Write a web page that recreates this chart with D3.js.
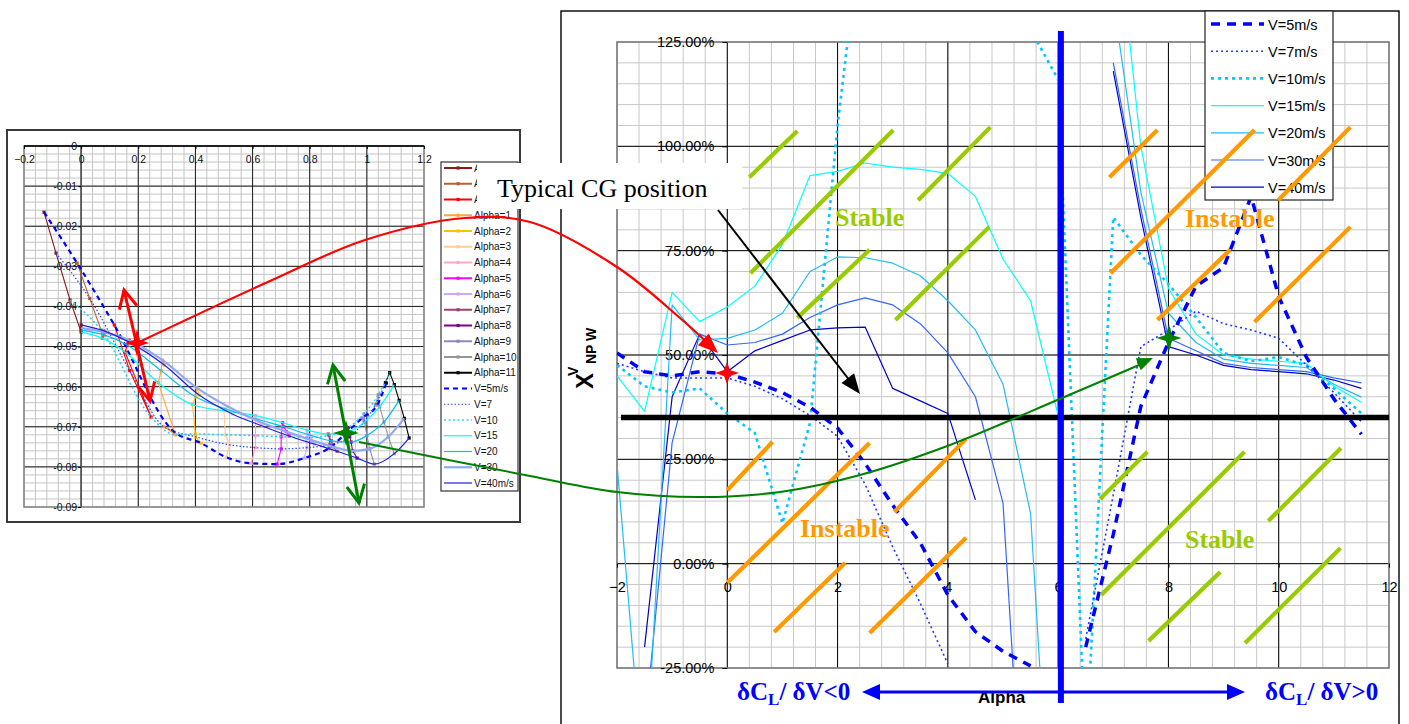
<!DOCTYPE html>
<html><head><meta charset="utf-8">
<script src="https://cdn.jsdelivr.net/npm/d3@7"></script>
<style>body{margin:0;background:#fff;} svg{display:block;}</style>
</head><body>
<svg id="c" width="1409" height="724"></svg>
<script>
// ================= DATA =================
// Right chart: neutral point position X^V_NPW (%) vs angle of attack, one series per airspeed
const alphas = [-2,-1.5,-1,-0.5,0,0.5,1,1.5,2,2.5,3,3.5,4,4.5,5,5.5,6,6.5,7,7.5,8,8.5,9,9.5,10,10.5,11,11.5];
const npV5  = [50.5,46,45,46,45.5,43.5,41,37.5,32.5,24,14,5,-7.5,-16.3,-21,-24.5,null,-20,7,37.7,53,66.5,71,88,64,49.5,39.5,31];
const npV7  = [48,46,44.5,44.5,44.5,42.5,39.5,35.5,30.5,19,4,-9.5,-24,null,null,null,null,-18,16.5,52,56,60.5,57.5,56,54,47.6,41,34];
const npV10 = [47.6,42.5,41,42,36,31.3,9.7,33.7,105,160,null,null,null,null,null,128,116,-46,83,74,67,59,50.5,48.5,49.5,47.5,42,36];
const npV15 = [45,36.5,65,58,61.5,66.5,76.5,93,94,96,95,94.5,93.5,88,73,63,35.5,null,162,100,66,55,50,49,48.5,48,42.5,38.7];
const npV20 = [24,-55,62,53.6,54,56,60,70,73.5,73.3,72,69,63,56,43,12,-98,null,135,89,60,53,49,48,47.5,47,43,39.9];
const npV30 = [null,-40,29,55,52.4,53,55,59,62,63.7,62,57.5,50.5,40,14.5,-93,null,null,120,85,54,51,48,47,46.5,46,44.5,43.3];
const npV40 = [null,-20,40,55,46,51,53.5,56,56.5,56.7,42,39,36,15.3,null,null,null,null,118,83,52,50,47.5,46.5,46,45.5,44,42];
const rightNames = ['V=5m/s','V=7m/s','V=10m/s','V=15m/s','V=20m/s','V=30m/s','V=40m/s'];
const yTicksR = [-25,0,25,50,75,100,125];
const xTicksR = [-2,0,2,4,6,8,10,12];

// Left chart: polar-type curves (x, y) for each airspeed, sampled at alpha = -2 ... 11
const alphaList = [-2,-1,0,1,2,3,4,5,6,7,8,9,10,11];
const lxV5  = [-0.130,-0.014,0.116,0.326,0.420,0.508,0.595,0.686,0.781,0.868,0.931,0.984,1.036,1.068];
const lyV5  = [-0.0165,-0.0292,-0.0446,-0.0713,-0.0741,-0.0776,-0.0791,-0.0793,-0.0778,-0.0753,-0.0713,-0.0678,-0.0646,-0.0591];
const lxV7  = [-0.088,0.030,0.170,0.290,0.400,0.520,0.610,0.700,0.790,0.870,0.940,0.990,1.030,1.065];
const lyV7  = [-0.0267,-0.0380,-0.0560,-0.0700,-0.0725,-0.0745,-0.0752,-0.0755,-0.0752,-0.0745,-0.0725,-0.0688,-0.0645,-0.0590];
const lxV10 = [-0.039,0.070,0.245,0.330,0.400,0.505,0.610,0.700,0.790,0.868,0.935,0.990,1.040,1.080];
const lyV10 = [-0.0384,-0.0459,-0.0676,-0.0720,-0.0718,-0.0720,-0.0722,-0.0725,-0.0727,-0.0722,-0.0702,-0.0668,-0.0620,-0.0565];
const lxV15 = [0.000,0.074,0.154,0.270,0.390,0.500,0.610,0.705,0.790,0.865,0.935,0.992,1.045,1.096];
const lyV15 = [-0.0464,-0.0479,-0.0514,-0.0590,-0.0645,-0.0660,-0.0672,-0.0690,-0.0708,-0.0718,-0.0712,-0.0688,-0.0650,-0.0595];
const lxV20 = [0.000,0.080,0.161,0.280,0.400,0.505,0.612,0.710,0.798,0.875,0.945,1.000,1.060,1.113];
const lyV20 = [-0.0459,-0.0471,-0.0496,-0.0560,-0.0625,-0.0655,-0.0680,-0.0700,-0.0720,-0.0735,-0.0738,-0.0722,-0.0688,-0.0634];
const lxV30 = [0.000,0.080,0.168,0.285,0.405,0.515,0.620,0.718,0.805,0.882,0.950,1.010,1.075,1.131];
const lyV30 = [-0.0454,-0.0464,-0.0484,-0.0534,-0.0603,-0.0650,-0.0686,-0.0712,-0.0733,-0.0750,-0.0760,-0.0755,-0.0725,-0.0679];
const lxV40 = [0.000,0.080,0.168,0.291,0.413,0.529,0.634,0.728,0.816,0.896,0.966,1.026,1.096,1.148];
const lyV40 = [-0.0446,-0.0461,-0.0489,-0.0546,-0.0621,-0.0668,-0.0698,-0.0723,-0.0743,-0.0761,-0.0778,-0.0793,-0.0767,-0.0728];
const leftVNames = ['V=5m/s','V=7','V=10','V=15','V=20','V=30','V=40m/s'];
const xTicksL = [-0.2,0,0.2,0.4,0.6,0.8,1,1.2];
const yTicksL = [0,-0.01,-0.02,-0.03,-0.04,-0.05,-0.06,-0.07,-0.08,-0.09];

// Stability zones hatching, segments [alpha0, pct0, alpha1, pct1]
const hatchGreenTop = [[0.4,92.6,1.27,103.7],[0.42,69.6,3.01,103.9],[1.27,58.9,2.58,75.2],[3.46,87.1,4.77,104.6],[3.05,58.4,4.75,80.7]];
const hatchOrangeTop = [[6.93,92.6,7.80,103.9],[6.95,69.6,9.56,103.9],[9.99,87.1,11.30,104.6],[7.80,58.4,9.12,75.2],[9.56,57.9,11.30,80.7]];
const hatchOrangeBottom = [[0,17.6,0.82,29.2],[0,-4.6,2.58,28.9],[3.03,12.4,4.33,29.9],[2.58,-16.6,4.33,6.2],[0.85,-16.4,2.14,0.2]];
const hatchGreenBottom = [[6.76,15.5,7.62,26.8],[6.78,-7.5,9.38,26.8],[9.81,10.2,11.13,27.7],[7.64,-18.5,8.94,-2.0],[9.39,-19.0,11.12,3.75]];
const cgPosition = 35;      // typical CG position, %
const neutralAlpha = 6.05;  // alpha where dCL/dV changes sign

// ================= STYLES =================
const SANS = '"Liberation Sans", Arial, sans-serif';
const SERIF = '"Liberation Serif", "Times New Roman", serif';
const rightStyles = [
  {c:'#0000FF', w:3.5, d:'9,7'},
  {c:'#1F3BFF', w:1.6, d:'2,3'},
  {c:'#00C8FF', w:2.6, d:'3,4'},
  {c:'#00FFFF', w:1.2, d:null},
  {c:'#22BBF5', w:1.2, d:null},
  {c:'#3366FF', w:1.2, d:null},
  {c:'#0000CC', w:1.2, d:null}
];
const leftStyles = [
  {c:'#0000FF', w:2.2, d:'5,4'},
  {c:'#2244FF', w:1.2, d:'1.5,2'},
  {c:'#33CCFF', w:1.6, d:'2,2.5'},
  {c:'#00FFFF', w:1.2, d:null},
  {c:'#00C0F0', w:1.2, d:null},
  {c:'#90A8F5', w:2.2, d:null},
  {c:'#2020E0', w:1.2, d:null}
];
const alphaColors = ['#8B1A1A','#B8602A','#FF0000','#FFA53C','#FFC000','#FFCC99','#FFA6CF','#FF00FF','#CCA8FF','#A0406E','#800080','#8A8ABE','#969696','#000000'];

const svg = d3.select('#c');

// ================= LEFT CHART =================
const xL = d3.scaleLinear().domain([-0.2,1.2]).range([24,424]);
const yL = d3.scaleLinear().domain([-0.09,0]).range([507,146]);
const L = svg.append('g');
L.append('rect').attr('x',7).attr('y',130).attr('width',513).attr('height',392)
  .attr('fill','#fff').attr('stroke','#3a3a3a').attr('stroke-width',2);
// minor grid
const lgMinor = L.append('g').attr('stroke','#c4c4c4').attr('stroke-width',1);
d3.range(0,36).map(i=>-0.2+i*0.04).forEach(v=>{
  lgMinor.append('line').attr('x1',xL(v)).attr('x2',xL(v)).attr('y1',yL(0)).attr('y2',yL(-0.09));
});
d3.range(0,46).map(i=>-i*0.002).forEach(v=>{
  lgMinor.append('line').attr('x1',xL(-0.2)).attr('x2',xL(1.2)).attr('y1',yL(v)).attr('y2',yL(v));
});
const lgMajor = L.append('g').attr('stroke','#1a1a1a').attr('stroke-width',1);
xTicksL.forEach(v=>{ if(Math.abs(v+0.2)>1e-9 && Math.abs(v-1.2)>1e-9)
  lgMajor.append('line').attr('x1',xL(v)).attr('x2',xL(v)).attr('y1',yL(0)).attr('y2',yL(-0.09)); });
yTicksL.forEach(v=>{ if(v!==-0.09)
  lgMajor.append('line').attr('x1',xL(-0.2)).attr('x2',xL(1.2)).attr('y1',yL(v)).attr('y2',yL(v)); });
L.append('rect').attr('x',xL(-0.2)).attr('y',yL(0)).attr('width',xL(1.2)-xL(-0.2)).attr('height',yL(-0.09)-yL(0))
  .attr('fill','none').attr('stroke','#808080').attr('stroke-width',1.5);
L.append('line').attr('x1',xL(-0.2)).attr('x2',xL(1.2)).attr('y1',yL(0)).attr('y2',yL(0)).attr('stroke','#000').attr('stroke-width',1.3);
L.append('line').attr('x1',xL(0)).attr('x2',xL(0)).attr('y1',yL(0)).attr('y2',yL(-0.09)).attr('stroke','#555').attr('stroke-width',1.5);
// axes
const axTopL = L.append('g').attr('transform',`translate(0,${yL(0)})`)
  .call(d3.axisBottom(xL).tickValues(xTicksL).tickSize(3).tickPadding(7).tickFormat(d=>d3.format('')(+d.toFixed(1))));
axTopL.select('.domain').remove();
const axLeftL = L.append('g').attr('transform',`translate(${xL(0)},0)`)
  .call(d3.axisLeft(yL).tickValues(yTicksL).tickSize(3).tickPadding(1).tickFormat(d=>d===0?'0':d.toFixed(2)));
axLeftL.select('.domain').remove();
[axTopL,axLeftL].forEach(a=>{a.selectAll('text').attr('font-family',SANS).attr('font-size',10.5).attr('fill','#111');
  a.selectAll('line').attr('stroke','#000');});

const leftX = [lxV5,lxV7,lxV10,lxV15,lxV20,lxV30,lxV40];
const leftY = [lyV5,lyV7,lyV10,lyV15,lyV20,lyV30,lyV40];
const lineL = d3.line().x(d=>xL(d[0])).y(d=>yL(d[1]));
// constant-alpha lines joining the airspeed curves
alphaList.forEach((a,j)=>{
  const pts = leftX.map((xs,k)=>[xs[j],leftY[k][j]]);
  L.append('path').attr('d',lineL(pts)).attr('fill','none').attr('stroke',alphaColors[j]).attr('stroke-width',1.1);
  L.selectAll(null).data(pts).enter().append('rect')
    .attr('x',d=>xL(d[0])-1.6).attr('y',d=>yL(d[1])-1.6).attr('width',3.2).attr('height',3.2).attr('fill',alphaColors[j]);
});
// airspeed curves
leftX.forEach((xs,k)=>{
  const pts = xs.map((x,j)=>[x,leftY[k][j]]);
  const st = leftStyles[k];
  L.append('path').attr('d',d3.line().curve(d3.curveMonotoneX).x(d=>xL(d[0])).y(d=>yL(d[1]))(pts))
    .attr('fill','none').attr('stroke',st.c).attr('stroke-width',st.w).attr('stroke-dasharray',st.d);
});
// legend (its upper entries sit partly under the CG label box)
svg.append('clipPath').attr('id','legClip').append('rect').attr('x',441).attr('y',160).attr('width',36).attr('height',50);
const lgL = L.append('g');
lgL.append('rect').attr('x',441).attr('y',162).attr('width',77).attr('height',329).attr('fill','#fff').attr('stroke','#333').attr('stroke-width',1.2);
const legLeftEntries = alphaList.map((a,j)=>({t:'Alpha='+a, c:alphaColors[j], w:2, d:null, m:true}))
  .concat(leftVNames.map((n,k)=>({t:n, c:leftStyles[k].c, w:leftStyles[k].w, d:leftStyles[k].d, m:false})));
legLeftEntries.forEach((e,i)=>{
  const y = 168 + i*15.75;
  lgL.append('line').attr('x1',444).attr('x2',472).attr('y1',y).attr('y2',y).attr('stroke',e.c).attr('stroke-width',e.w).attr('stroke-dasharray',e.d);
  if(e.m) lgL.append('rect').attr('x',456.5).attr('y',y-1.6).attr('width',3.2).attr('height',3.2).attr('fill',e.c);
  const t = lgL.append('text').attr('x',474).attr('y',y+3.5).attr('font-family',SANS).attr('font-size',10).attr('fill','#111').text(e.t);
  if(y < 210) t.attr('clip-path','url(#legClip)');
});

// ================= RIGHT CHART =================
const xR = d3.scaleLinear().domain([-2,12]).range([617,1389]);
const yR = d3.scaleLinear().domain([-25,125]).range([668,42]);
const R = svg.append('g');
R.append('rect').attr('x',561).attr('y',11).attr('width',838).attr('height',740).attr('fill','#fff').attr('stroke','#111').attr('stroke-width',1.5);
const rgMinor = R.append('g').attr('stroke','#c8c8c8').attr('stroke-width',1);
d3.range(0,36).map(i=>-2+i*0.4).forEach(v=>{
  rgMinor.append('line').attr('x1',xR(v)).attr('x2',xR(v)).attr('y1',yR(125)).attr('y2',yR(-25)); });
d3.range(0,31).map(i=>-25+i*5).forEach(v=>{
  rgMinor.append('line').attr('x1',xR(-2)).attr('x2',xR(12)).attr('y1',yR(v)).attr('y2',yR(v)); });
const rgMajor = R.append('g').attr('stroke','#000').attr('stroke-width',1);
xTicksR.filter(v=>v>-2&&v<12).forEach(v=>{
  rgMajor.append('line').attr('x1',xR(v)).attr('x2',xR(v)).attr('y1',yR(125)).attr('y2',yR(-25)); });
yTicksR.filter(v=>v>-25&&v<125).forEach(v=>{
  rgMajor.append('line').attr('x1',xR(-2)).attr('x2',xR(12)).attr('y1',yR(v)).attr('y2',yR(v)); });
R.append('rect').attr('x',xR(-2)).attr('y',yR(125)).attr('width',xR(12)-xR(-2)).attr('height',yR(-25)-yR(125))
  .attr('fill','none').attr('stroke','#7a7a7a').attr('stroke-width',1.6);
const axYR = R.append('g').attr('transform',`translate(${xR(0)},0)`)
  .call(d3.axisLeft(yR).tickValues(yTicksR).tickSize(5).tickPadding(8).tickFormat(d=>d.toFixed(2)+'%'));
axYR.select('.domain').remove();
const axXR = R.append('g').attr('transform',`translate(0,${yR(0)})`)
  .call(d3.axisBottom(xR).tickValues(xTicksR).tickSize(4).tickPadding(14).tickFormat(d3.format('d')));
axXR.select('.domain').remove();
[axYR,axXR].forEach(a=>{a.selectAll('text').attr('font-family',SANS).attr('font-size',14.5).attr('fill','#000');
  a.selectAll('line').attr('stroke','#000');});

svg.append('clipPath').attr('id','plotR').append('rect')
  .attr('x',xR(-2)).attr('y',yR(125)).attr('width',xR(12)-xR(-2)).attr('height',yR(-25)-yR(125));
const series = [npV5,npV7,npV10,npV15,npV20,npV30,npV40];
const lineR = d3.line().defined(d=>d[1]!==null).x(d=>xR(d[0])).y(d=>yR(d[1]));
const gSeries = R.append('g').attr('clip-path','url(#plotR)');
series.slice().reverse().forEach((s,ri)=>{
  const k = series.length-1-ri;
  const st = rightStyles[k];
  gSeries.append('path').attr('d',lineR(alphas.map((a,i)=>[a,s[i]])))
    .attr('fill','none').attr('stroke',st.c).attr('stroke-width',st.w).attr('stroke-dasharray',st.d)
    .attr('stroke-linejoin','round');
});

// axis titles
R.append('text').attr('x',978).attr('y',703).attr('font-family',SANS).attr('font-weight','bold').attr('font-size',17).text('Alpha');
R.append('text').attr('transform','translate(593,389) rotate(-90)').attr('font-family',SANS).attr('font-weight','bold').attr('font-size',24).text('X');
R.append('text').attr('transform','translate(578,376) rotate(-90)').attr('font-family',SANS).attr('font-weight','bold').attr('font-size',14).text('V');
R.append('text').attr('transform','translate(596,364) rotate(-90)').attr('font-family',SANS).attr('font-weight','bold').attr('font-size',14).text('NP W');

// legend
const lgR = R.append('g');
lgR.append('rect').attr('x',1205).attr('y',11).attr('width',128).attr('height',189).attr('fill','#fff').attr('stroke','#222').attr('stroke-width',1.2);
rightNames.forEach((n,k)=>{
  const y = 24 + k*27.2, st = rightStyles[k];
  lgR.append('line').attr('x1',1211).attr('x2',1264).attr('y1',y).attr('y2',y)
    .attr('stroke',st.c).attr('stroke-width',st.w).attr('stroke-dasharray',st.d);
  lgR.append('text').attr('x',1268).attr('y',y+5.5).attr('font-family',SANS).attr('font-size',14.5).attr('fill','#000').text(n);
});

// ================= ANNOTATIONS =================
const A = svg.append('g');
// CG line and neutral alpha line
A.append('line').attr('x1',xR(-2)+4).attr('x2',xR(12)).attr('y1',yR(cgPosition)).attr('y2',yR(cgPosition))
  .attr('stroke','#000').attr('stroke-width',5.5);
// hatching
const hatch = (segs,col)=>segs.forEach(s=>A.append('line')
  .attr('x1',xR(s[0])).attr('y1',yR(s[1])).attr('x2',xR(s[2])).attr('y2',yR(s[3]))
  .attr('stroke',col).attr('stroke-width',4.2));
hatch(hatchGreenTop,'#99CC00'); hatch(hatchOrangeTop,'#FF9900');
hatch(hatchOrangeBottom,'#FF9900'); hatch(hatchGreenBottom,'#99CC00');
A.append('line').attr('x1',xR(neutralAlpha)).attr('x2',xR(neutralAlpha)).attr('y1',31).attr('y2',703)
  .attr('stroke','#0000FF').attr('stroke-width',6);

const zoneText = (t,x,y,c)=>A.append('text').attr('x',x).attr('y',y).attr('font-family',SERIF)
  .attr('font-weight','bold').attr('font-size',26).attr('fill',c).text(t);
zoneText('Stable',835,226,'#99CC00');
zoneText('Instable',1185,227,'#FF9900');
zoneText('Instable',800,537,'#FF9900');
zoneText('Stable',1185,548,'#99CC00');

// dCL/dV arrow
A.append('line').attr('x1',874).attr('x2',1232).attr('y1',692).attr('y2',692).attr('stroke','#0000FF').attr('stroke-width',3);
A.append('path').attr('d','M862,692 L880,684 L880,700 Z').attr('fill','#0000FF');
A.append('path').attr('d','M1245,692 L1227,684 L1227,700 Z').attr('fill','#0000FF');
const dText = (x,sign)=>{
  const t = A.append('text').attr('x',x).attr('y',700).attr('font-family',SERIF).attr('font-weight','bold')
    .attr('font-size',25).attr('fill','#0000FF');
  t.append('tspan').text('δC');
  t.append('tspan').attr('font-size',17).attr('dy',5).text('L');
  t.append('tspan').attr('dy',-5).text('/ δV' + sign + '0');
};
dText(737,'<'); dText(1265,'>');

// star marker
const star = (cx,cy,rx,ry,w,c)=>A.append('path')
  .attr('d',`M${cx},${cy-ry} L${cx+w},${cy-w} L${cx+rx},${cy} L${cx+w},${cy+w} L${cx},${cy+ry} L${cx-w},${cy+w} L${cx-rx},${cy} L${cx-w},${cy-w} Z`)
  .attr('fill',c);
const arrowHead = (tip,from,len,half,c)=>{
  const dx=tip[0]-from[0], dy=tip[1]-from[1], n=Math.hypot(dx,dy), ux=dx/n, uy=dy/n;
  const bx=tip[0]-ux*len, by=tip[1]-uy*len;
  A.append('path').attr('d',`M${tip[0]},${tip[1]} L${bx-uy*half},${by+ux*half} L${bx+uy*half},${by-ux*half} Z`).attr('fill',c);
};
const openArrow = (p0,p1,c)=>{
  A.append('line').attr('x1',p0[0]).attr('y1',p0[1]).attr('x2',p1[0]).attr('y2',p1[1]).attr('stroke',c).attr('stroke-width',3);
  [[p0,p1],[p1,p0]].forEach(([tip,from])=>{
    const dx=tip[0]-from[0], dy=tip[1]-from[1], n=Math.hypot(dx,dy), ux=dx/n, uy=dy/n;
    const bx=tip[0]-ux*18, by=tip[1]-uy*18;
    A.append('path').attr('d',`M${bx-uy*9},${by+ux*9} L${tip[0]},${tip[1]} L${bx+uy*9},${by-ux*9}`)
      .attr('fill','none').attr('stroke',c).attr('stroke-width',3);
  });
};

// left chart markers
openArrow([124,290],[150,401],'#FF0000');
star(137,343,12,14,3,'#FF0000');
openArrow([333,365],[359,503],'#008000');
star(346,433,13,13,3,'#008000');

// connecting curves
const curve = d3.line().curve(d3.curveCatmullRom.alpha(0.5));
const redPts = [[137,343],[270,281],[365,240],[465,218],[530,222],[617,267],[680,318],[712,347]];
A.append('path').attr('d',curve(redPts)).attr('fill','none').attr('stroke','#FF0000').attr('stroke-width',2.2);
arrowHead([718,353],[690,327],20,8,'#FF0000');
const greenPts = [[359,442],[530,476],[617,492],[700,497],[780,492],[860,475],[950,445],[1062,398],[1146,362]];
A.append('path').attr('d',curve(greenPts)).attr('fill','none').attr('stroke','#008000').attr('stroke-width',2);
arrowHead([1153,358],[1120,372],16,6.5,'#008000');

// right chart markers
star(727,373,12,11,3,'#FF0000');
star(1169,338,12.5,13.5,3,'#008000');

// CG label
A.append('rect').attr('x',477).attr('y',163).attr('width',265).attr('height',46).attr('fill','#fff');
A.append('text').attr('x',497).attr('y',197).attr('font-family',SERIF).attr('font-size',26).attr('fill','#000').text('Typical CG position');
A.append('line').attr('x1',718).attr('y1',210).attr('x2',850).attr('y2',381).attr('stroke','#000').attr('stroke-width',2);
arrowHead([860,394],[718,210],20,8,'#000');
</script>
</body></html>
